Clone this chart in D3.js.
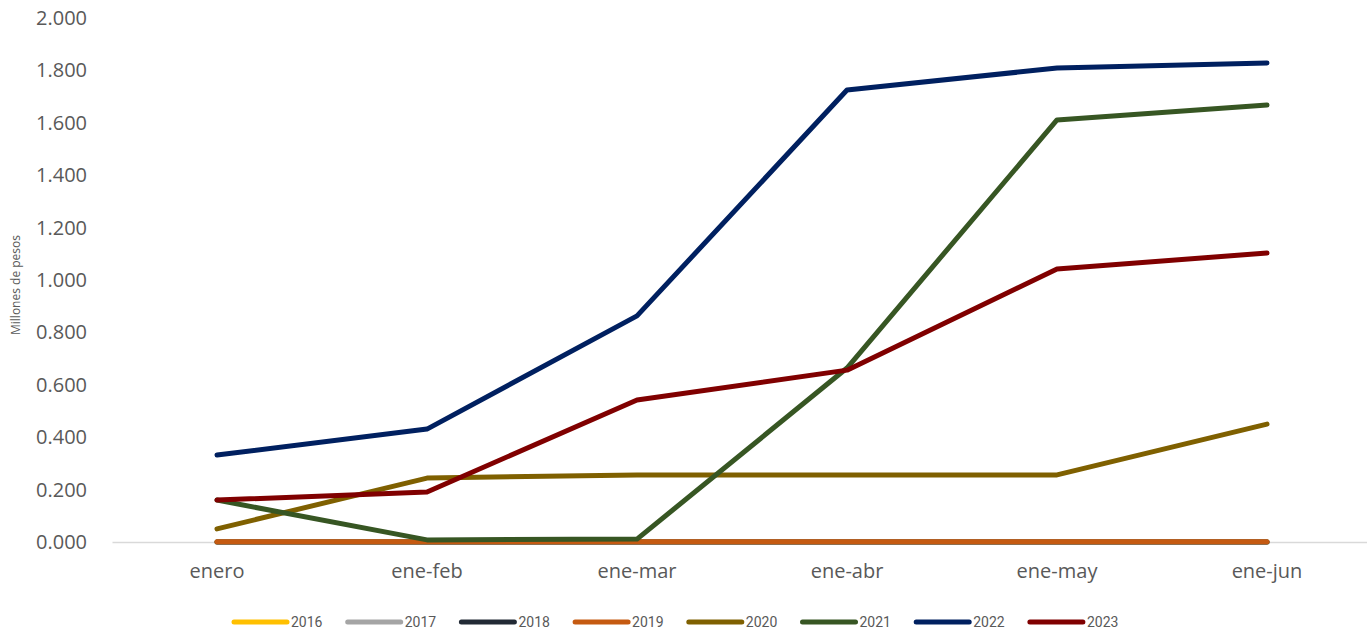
<!DOCTYPE html>
<html><head><meta charset="utf-8">
<script src="https://cdn.jsdelivr.net/npm/d3@7"></script>
<style>body{margin:0;background:#fff}svg{display:block}</style>
</head><body>
<script>
const categories = ["enero","ene-feb","ene-mar","ene-abr","ene-may","ene-jun"];
const seriesNames = ["2016","2017","2018","2019","2020","2021","2022","2023"];
const v2016 = [0,0,0,0,0,0];
const v2017 = [0,0,0,0,0,0];
const v2018 = [0,0,0,0,0,0];
const v2019 = [0.001,0.001,0.001,0.001,0.001,0.001];
const v2020 = [0.050,0.244,0.256,0.256,0.256,0.450];
const v2021 = [0.160,0.008,0.011,0.664,1.611,1.668];
const v2022 = [0.332,0.431,0.863,1.725,1.809,1.828];
const v2023 = [0.160,0.191,0.542,0.656,1.042,1.103];
const colors = ["#FFC000","#A5A5A5","#222A35","#C55A11","#7F6000","#375623","#002060","#800000"];
const yTicks = [0,0.2,0.4,0.6,0.8,1.0,1.2,1.4,1.6,1.8,2.0];
const values = [v2016,v2017,v2018,v2019,v2020,v2021,v2022,v2023];

const W=1367,H=629;
const svg=d3.select("body").append("svg").attr("width",W).attr("height",H);
const x=d3.scaleBand().domain(categories).range([112,1372]).padding(0);
const y=d3.scaleLinear().domain([0,2]).range([542,18]);
const fmt=d=>d3.format(".3f")(d);

const ya=svg.append("g").attr("transform","translate(87,0)")
  .call(d3.axisLeft(y).tickValues(yTicks).tickSize(0).tickPadding(0).tickFormat(fmt));
ya.select(".domain").remove();
ya.selectAll("text").attr("fill","#595959").style("font-family","Open Sans").style("font-size","20px");

const xa=svg.append("g").attr("transform","translate(0,542)")
  .call(d3.axisBottom(x).tickSize(0).tickPadding(22));
xa.select(".domain").attr("stroke","#D9D9D9").attr("stroke-width",1.5);
xa.selectAll("text").attr("fill","#595959").style("font-family","Open Sans").style("font-size","20px");

svg.append("text").attr("transform","translate(20,285) rotate(-90)")
  .attr("text-anchor","middle").attr("fill","#595959")
  .style("font-family","Open Sans").style("font-size","12px").text("Millones de pesos");

const line=d3.line().x((d,i)=>x(categories[i])+x.bandwidth()/2).y(d=>y(d));
svg.append("g").selectAll("path").data(values).join("path")
  .attr("d",line).attr("fill","none").attr("stroke",(d,i)=>colors[i])
  .attr("stroke-width",5).attr("stroke-linecap","round").attr("stroke-linejoin","round");

const lg=svg.append("g").selectAll("g").data(seriesNames).join("g")
  .attr("transform",(d,i)=>`translate(${234+i*113.7},622)`);
lg.append("line").attr("x1",0).attr("x2",53).attr("stroke",(d,i)=>colors[i])
  .attr("stroke-width",5).attr("stroke-linecap","round");
lg.append("text").attr("x",57).attr("y",5).attr("fill","#595959")
  .style("font-family","Roboto").style("font-size","14px").text(d=>d);
</script>
</body></html>
